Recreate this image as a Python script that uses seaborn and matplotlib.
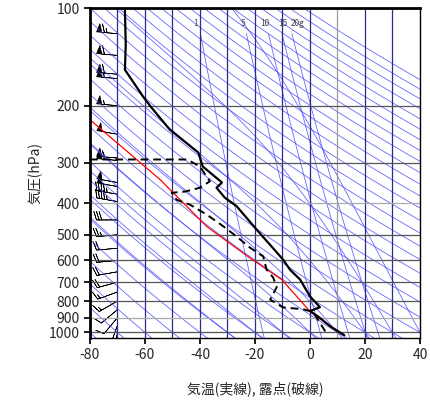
import numpy as np
import matplotlib
matplotlib.use("Agg")
import matplotlib.pyplot as plt
import seaborn as sns

sns.set_theme(style="white")
plt.rcParams['font.family'] = ['Noto Sans CJK JP', 'DejaVu Sans']

# temperature (solid)
t_p = [101,130,155,188,201,237,279,308,345,358,384,408,482,596,640,687,774,836,859,900,960,1020]
t_T = [-67.3,-67.0,-67.3,-60.6,-58,-51,-40.6,-39,-32,-34,-31,-26.7,-19.4,-9.8,-7.3,-3.6,0,3.6,0,3.5,7.5,12.5]
# dewpoint (dashed)
d_p = [293,293,308,322,342,358,368,371,390,404,433,471,506,548,583,640,677,725,792,837,848,865,933,1010]
d_T = [-80,-44.7,-40,-38.5,-36.4,-40,-45.5,-50.3,-48.5,-43.6,-37.6,-31.5,-26.7,-21.8,-17,-15.8,-13.4,-12.1,-14.5,-9.8,-2.5,1.1,3.6,6.1]
# parcel path (red)
r_p = [221,338,471,588,687,861,900,1020]
r_T = [-80,-54.5,-37.6,-22.0,-10.3,0,3,12.5]
# winds
w_p = [120,140,160,165,200,245,290,295,345,355,375,395,450,500,550,600,650,700,750,800,850,900,950,1000]
w_kt = [65,60,60,55,55,50,55,60,50,50,45,45,30,25,20,20,20,20,15,15,10,10,10,5]
w_dir = [275,275,275,275,275,280,275,275,280,280,280,280,270,265,265,265,260,255,250,240,230,220,200,190]
mix_w = [1,5,10,15,20]
mix_lab = ['1','5','10','15','20g']
mix_lab_T = [-41.5,-24.4,-16.4,-10.0,-4.5]

fig = plt.figure(figsize=(4.31,4.08), dpi=100)
ax = fig.add_axes([90/431, 1-338/408, 330/431, 330/408])
ax.set_yscale('log')
ax.set_ylim(1040, 100)
ax.set_xlim(-80, 40)

bl = dict(color='#4d4dff', lw=0.6, alpha=0.85)
pp = np.logspace(np.log10(100), np.log10(1040), 80)
# dry adiabats
for T0 in range(-90, 260, 10):
    ax.plot((T0+273.15)*(pp/1000)**0.286-273.15, pp, **bl)
# moist adiabats
def es(T): return 6.112*np.exp(17.67*T/(T+243.5))
for T0 in range(-30, 50, 10):
    T = T0+273.15; ps=[1000.0]; Ts=[T]; p=1000.0
    for dp in (5, -5):
        T = T0+273.15; p = 1000.0; seg_p=[p]; seg_T=[T]
        while 100 < p < 1045:
            rs=0.622*es(T-273.15)/(p-es(T-273.15))
            dTdp=(287*T+2.5e6*rs)/(1004+2.5e6**2*rs*0.622/(287*T**2))/p
            T+=dTdp*dp; p+=dp; seg_p.append(p); seg_T.append(T)
        ax.plot(np.array(seg_T)-273.15, seg_p, **bl)
# mixing ratio lines
pm = np.logspace(np.log10(120), np.log10(1040), 40)
for w, lab, lx in zip(mix_w, mix_lab, mix_lab_T):
    e = w*pm/(622+w)
    td = 243.5*np.log(e/6.112)/(17.67-np.log(e/6.112))
    ax.plot(td, pm, **bl)
    ax.text(lx, 114, lab, fontsize=6, color='#444444', ha='center')

for x in range(-70, 40, 10):
    ax.axvline(x, color='#9a9a9a' if x == 10 else '#2a2a90', lw=0.9)
for p in range(100, 1100, 100):
    ax.axhline(p, color='#aaaaaa' if p in (400, 900) else '#555555', lw=0.9)

ax.plot(r_T, r_p, color='red', lw=0.9)
ax.plot(t_T, t_p, color='black', lw=1.6)
ax.plot(d_T, d_p, color='black', lw=1.4, ls=(0, (4, 2.5)))
wd = np.deg2rad(w_dir); spd = np.array(w_kt, float)
ax.barbs(np.full(len(w_p), -70.0), w_p, -spd*np.sin(wd), -spd*np.cos(wd),
         length=5.5, lw=0.5, color='black', pivot='tip')

ax.set_yticks(range(100, 1100, 100))
ax.set_yticklabels([str(v) for v in range(100, 1100, 100)], fontsize=10)
ax.minorticks_off()
ax.set_xticks(range(-80, 50, 20))
ax.set_xticklabels([str(v) for v in range(-80, 50, 20)], fontsize=10)
ax.tick_params(length=4, direction='out', color='black', bottom=True, left=True)
ax.set_ylabel('気圧(hPa)', fontsize=10)
ax.set_xlabel('気温(実線), 露点(破線)', fontsize=10, labelpad=14)
for s in ax.spines.values():
    s.set_color('black'); s.set_linewidth(1)
ax.spines['top'].set_linewidth(2); ax.spines['left'].set_linewidth(2)
fig.savefig('out.png', dpi=100)
